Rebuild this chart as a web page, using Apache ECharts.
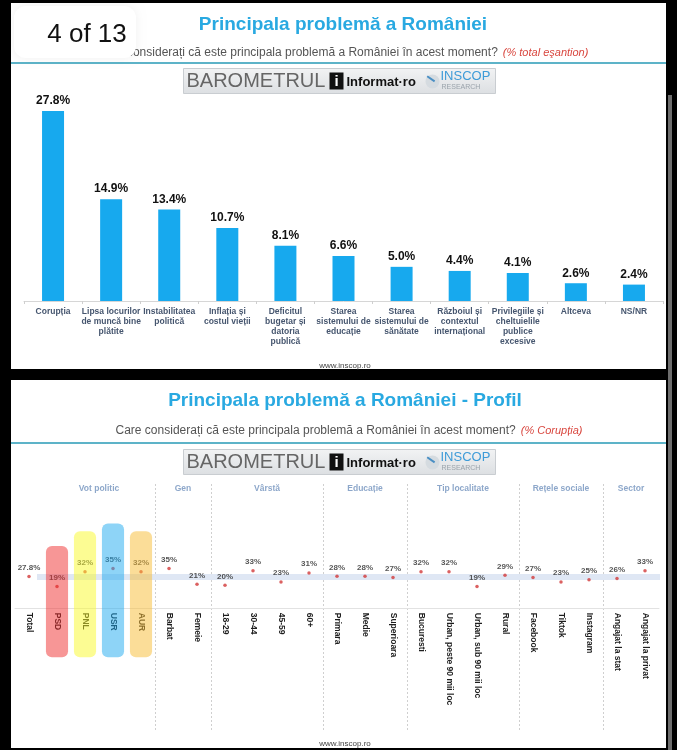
<!DOCTYPE html>
<html>
<head>
<meta charset="utf-8">
<title>Principala problemă a României</title>
<script src="https://cdn.jsdelivr.net/npm/echarts@6/dist/echarts.min.js"></script>
<style>
  html, body { margin: 0; padding: 0; background: #000; }
  .panel { position: absolute; left: 11px; width: 655px; background: #fff; }
  .scroll { position: absolute; left: 668px; top: 95px; width: 4px; height: 655px; background: #6d6d6d; }
  #chart { position: absolute; left: 0; top: 0; width: 677px; height: 750px; }
</style>
</head>
<body>
<div class="panel" style="top:3px;height:366px"></div>
<div class="panel" style="top:380px;height:368px"></div>
<div class="scroll"></div>
<div id="chart"></div>
<script>
// slide 1: % total eşantion
const problemCategories = [
  'Corupția',
  'Lipsa locurilor\nde muncă bine\nplătite',
  'Instabilitatea\npolitică',
  'Inflația și\ncostul vieții',
  'Deficitul\nbugetar și\ndatoria\npublică',
  'Starea\nsistemului de\neducație',
  'Starea\nsistemului de\nsănătate',
  'Războiul și\ncontextul\ninternațional',
  'Privilegiile și\ncheltuielile\npublice\nexcesive',
  'Altceva',
  'NS/NR'
]
const problemValues = [27.8, 14.9, 13.4, 10.7, 8.1, 6.6, 5.0, 4.4, 4.1, 2.6, 2.4]

// slide 2: profil (% Corupția)
const profileCategories = [
  'Total', 'PSD', 'PNL', 'USR', 'AUR', 'Barbat', 'Femeie',
  '18-29', '30-44', '45-59', '60+', 'Primara', 'Medie', 'Superioara',
  'Bucuresti', 'Urban, peste 90 mii loc', 'Urban, sub 90 mii loc', 'Rural',
  'Facebook', 'Tiktok', 'Instagram', 'Angajat la stat', 'Angajat la privat'
]
const profileValues = [27.8, 19, 32, 35, 32, 35, 21, 20, 33, 23, 31, 28, 28, 27, 32, 32, 19, 29, 27, 23, 25, 26, 33]
const totalValue = 27.8

// group headers: name, centre and first category index of each group
const groupNames = ['Vot politic', 'Gen', 'Vârstă', 'Educație', 'Tip localitate', 'Rețele sociale', 'Sector']
const groupCenters = [3, 6, 9, 12.5, 16, 19.5, 22]
const groupStarts = [1, 5, 7, 11, 14, 18, 21]

// highlighted party columns (extent in axis units)
const partyNames = ['PSD', 'PNL', 'USR', 'AUR']
const partyTop = [55, 68, 75, 68]
const partyBottom = -44

const partyColors = ['rgba(240,45,45,0.5)', 'rgba(250,250,40,0.5)', 'rgba(30,170,240,0.5)', 'rgba(248,188,50,0.5)']
const FONT = 'Liberation Sans, Arial, sans-serif'

function pct(v) {
  return (v % 1 ? v.toFixed(1) : v) + '%'
}

// barometer logo strip
function logo(top) {
  return {
    type: 'group', left: 183, top: top, z: 50,
    children: [
      { type: 'rect', shape: { x: 0, y: 0, width: 312, height: 25 },
        style: { fill: new echarts.graphic.LinearGradient(0, 0, 0, 1, [
          { offset: 0, color: '#f2f3f4' }, { offset: 1, color: '#dcdfe2' }
        ]), stroke: '#c9cdd1', lineWidth: 1 } },
      { type: 'text', x: 3, y: 13, style: { text: 'BAROMETRUL', font: '20px ' + FONT, fill: '#666', verticalAlign: 'middle' } },
      { type: 'rect', shape: { x: 146, y: 4, width: 14, height: 17 }, style: { fill: '#111' } },
      { type: 'text', x: 153, y: 13, style: { text: 'i', font: 'bold 15px ' + FONT, fill: '#fff', align: 'center', verticalAlign: 'middle' } },
      { type: 'text', x: 163, y: 14, style: { text: 'Informat·ro', font: 'bold 13px ' + FONT, fill: '#111', verticalAlign: 'middle' } },
      { type: 'circle', shape: { cx: 249, cy: 13, r: 7 }, style: { fill: '#d5dbe0' } },
      { type: 'rect', shape: { x: 243, y: 9, width: 9, height: 2 }, rotation: -0.6, originX: 247, originY: 10, style: { fill: '#4a8fc4' } },
      { type: 'text', x: 257, y: 1, style: { text: 'INSCOP', font: '13px ' + FONT, fill: '#3d9bd8' } },
      { type: 'text', x: 258, y: 15, style: { text: 'RESEARCH', font: '7px ' + FONT, fill: '#9aa3ab' } }
    ]
  }
}

function rule(y) {
  return { type: 'rect', z: 50, shape: { x: 11, y: y, width: 655, height: 2 }, style: { fill: '#5db3c8' } }
}

const chart = echarts.init(document.getElementById('chart'))

const subRich = {
  a: { fontSize: 12, color: '#555', fontWeight: 'normal' },
  b: { fontSize: 11, color: '#d9473f', fontStyle: 'italic', fontWeight: 'normal' }
}

const option = {
  animation: false,
  textStyle: { fontFamily: FONT },
  title: [
    {
      text: 'Principala problemă a României',
      left: 338, top: 10, textAlign: 'center',
      textStyle: { fontSize: 19, fontWeight: 'bold', color: '#29a9e1' }
    },
    {
      text: '{a|Care considerați că este principala problemă a României în acest moment?} {b|(% total eşantion)}',
      left: 338, top: 39, textAlign: 'center',
      textStyle: { fontWeight: 'normal', rich: subRich }
    },
    {
      text: 'Principala problemă a României - Profil',
      left: 340, top: 386, textAlign: 'center',
      textStyle: { fontSize: 19, fontWeight: 'bold', color: '#29a9e1' }
    },
    {
      text: '{a|Care considerați că este principala problemă a României în acest moment?} {b|(% Corupția)}',
      left: 344, top: 417, textAlign: 'center',
      textStyle: { fontWeight: 'normal', rich: subRich }
    },
    {
      text: 'www.inscop.ro', left: 340, top: 357, textAlign: 'center',
      textStyle: { fontSize: 8, fontWeight: 'normal', color: '#444' }
    },
    {
      text: 'www.inscop.ro', left: 340, top: 735, textAlign: 'center',
      textStyle: { fontSize: 8, fontWeight: 'normal', color: '#444' }
    }
  ],
  graphic: [
    rule(62),
    rule(442),
    logo(68),
    logo(449),
    {
      type: 'rect', z: 60,
      shape: { x: 14, y: 6, width: 122, height: 52, r: 12 },
      style: { fill: '#fff', shadowBlur: 10, shadowColor: 'rgba(0,0,0,0.06)' }
    },
    {
      type: 'text', z: 61, x: 87, y: 35,
      style: { text: '4 of 13', font: '26px ' + FONT, fill: '#111', align: 'center', verticalAlign: 'middle' }
    }
  ],
  grid: [
    { left: 24, right: 14, top: 96, height: 205, outerBoundsMode: 'none' },
    { left: 15, right: 18, top: 484, height: 247.5, outerBoundsMode: 'none' }
  ],
  xAxis: [
    {
      type: 'category', gridIndex: 0, data: problemCategories,
      axisLine: { lineStyle: { color: '#d6d6d6' } },
      axisTick: { show: true, length: 3, interval: 0, lineStyle: { color: '#cfcfcf' } },
      axisLabel: { interval: 0, margin: 6, fontSize: 8.5, fontWeight: 'bold', color: '#46566f', lineHeight: 10 }
    },
    {
      // axis sits at value 0 (110 units above the grid bottom)
      type: 'category', gridIndex: 1, data: profileCategories,
      offset: -123.75,
      axisLine: { onZero: false, lineStyle: { color: '#e2e2e2' } },
      axisTick: { show: false },
      axisLabel: { interval: 0, rotate: -90, margin: 5, fontSize: 8.5, fontWeight: 'bold', color: '#1e1e1e' },
      splitLine: {
        show: true, showMinLine: false, showMaxLine: false,
        interval: function (idx) { return groupStarts.indexOf(idx) >= 0 },
        lineStyle: { color: '#cfcfcf', type: [2, 2], width: 1 }
      }
    },
    { type: 'value', gridIndex: 1, min: 0, max: 23, show: false }
  ],
  yAxis: [
    { type: 'value', gridIndex: 0, min: 0, max: 30, show: false },
    { type: 'value', gridIndex: 1, min: -110, max: 110, show: false }
  ],
  series: [
    {
      type: 'bar', xAxisIndex: 0, yAxisIndex: 0,
      data: problemValues, barWidth: 22,
      itemStyle: { color: '#17a9ee' },
      label: {
        show: true, position: 'top', distance: 4,
        fontSize: 12, fontWeight: 'bold', color: '#111',
        formatter: p => p.value.toFixed(1) + '%'
      }
    },
    {
      type: 'scatter', xAxisIndex: 1, yAxisIndex: 1,
      data: profileValues, symbol: 'circle', symbolSize: 3.5, z: 3,
      itemStyle: { color: '#d23a3a' },
      label: {
        show: true, position: 'top', distance: 3,
        fontSize: 8, fontWeight: 'bold', color: '#2a2a2a',
        formatter: p => pct(p.value)
      },
      markLine: {
        silent: true, symbol: 'none', z: 1,
        label: { show: false },
        lineStyle: { color: '#dfe7f4', width: 6, type: 'solid', opacity: 1 },
        data: [[{ coord: [0, totalValue], x: 37 }, { coord: [22, totalValue], x: 660 }]]
      }
    },
    {
      type: 'custom', xAxisIndex: 1, yAxisIndex: 1, z: 10, silent: true,
      data: partyNames.map((n, i) => [n, partyTop[i], partyBottom]),
      renderItem: function (params, api) {
        const top = api.coord([api.value(0), api.value(1)])
        const bottom = api.coord([api.value(0), api.value(2)])
        const w = api.size([1, 0])[0] * 0.79
        return {
          type: 'rect',
          shape: { x: top[0] - w / 2, y: top[1], width: w, height: bottom[1] - top[1], r: 6 },
          style: { fill: partyColors[params.dataIndex] }
        }
      }
    },
    {
      type: 'scatter', xAxisIndex: 2, yAxisIndex: 1, silent: true,
      data: groupNames.map((n, i) => [groupCenters[i], 106, n]),
      symbolSize: 0,
      label: {
        show: true, position: 'inside', formatter: p => p.data[2],
        fontSize: 8.5, fontWeight: 'bold', color: '#7191bd'
      }
    }
  ]
}

chart.setOption(option)
</script>
</body>
</html>
